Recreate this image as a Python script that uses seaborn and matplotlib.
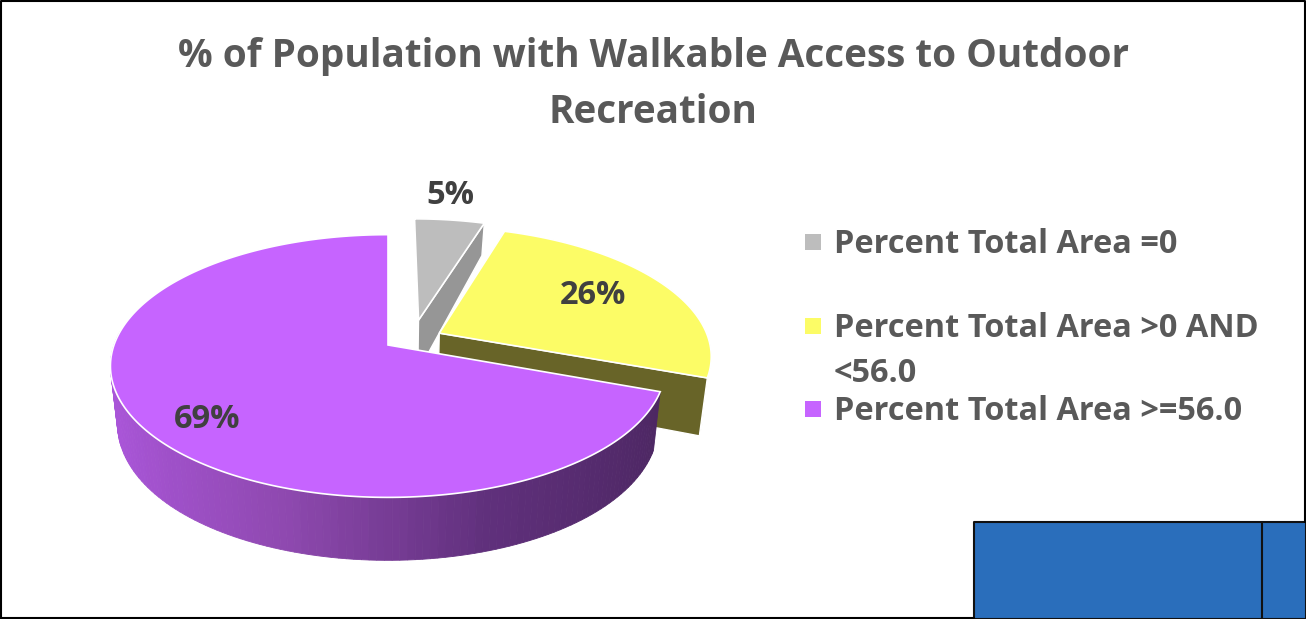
import numpy as np
import matplotlib
matplotlib.use('Agg')
import matplotlib.pyplot as plt
import seaborn as sns

sns.set_theme(style="white")
plt.rcParams['font.family'] = ['Open Sans', 'DejaVu Sans']

title = '% of Population with Walkable Access to Outdoor\nRecreation'
categories = ['Percent Total Area =0', 'Percent Total Area >0 AND\n<56.0', 'Percent Total Area >=56.0']
shares = [5.0, 25.6, 69.4]
top_colors = ['#BDBDBD', '#FCFC66', '#C664FF']
cut_colors = ['#969696', '#686428', '#4F2864']

# pie placement in figure pixels
CX, CY = 388, 345
RX, RY, PERSP = 274, 128, 0.16
# explode offset and radius for each slice, in pie units
explode = [(0.115, 0.20), (0.19, 0.094), (0.0, 0.0)]
radius = [0.97, 0.99, 1.0]
label_pos = [(450, 196), (593, 295), (207, 419)]
legend_y = [242, 326, 409]


def project(x, y, low=False):
    # perspective squash of the pie plane, low=True gives the bottom face
    d = 1 + PERSP * y
    sx = RX * x / d
    sy = -RY * y / d
    if low:
        sx = sx * 0.975
        sy = sy + 54.9 - 13.7 * y - 5.64 * y * y
    return CX + sx, CY + sy


def slice_xy(i, ang):
    ex, ey = explode[i]
    return ex + radius[i] * np.cos(ang), ey + radius[i] * np.sin(ang)


def poly(ax, pts, color, ec='none', lw=0, z=2):
    ax.fill([p[0] for p in pts], [p[1] for p in pts], facecolor=color, edgecolor=ec, linewidth=lw, zorder=z)


fig, ax = plt.subplots(figsize=(13.06, 6.19), dpi=100)
ax.set_position([0, 0, 1, 1])
ax.set_xlim(0, 1306)
ax.set_ylim(619, 0)
ax.axis('off')

ends = 90 - np.cumsum([0] + shares) * 3.6
rim_colors = sns.blend_palette(['#AB56DB', '#8F49B0', '#60307C', '#4D2763'], 100)

z = 2
for i in range(3):
    a0, a1 = np.radians(ends[i]), np.radians(ends[i + 1])
    ex, ey = explode[i]
    angs = np.linspace(a0, a1, 240)
    apex = (ex, ey)

    # outer rim, only the part that faces the viewer
    if i == 2:
        front = np.radians(np.linspace(-186, ends[2], 121))
        for k in range(120):
            b0, b1 = front[k], front[k + 1]
            # shade follows the horizontal position on the rim
            shade = (1 + np.cos(b0)) / (1 + np.cos(front[-1]))
            color = rim_colors[int(min(shade, 1) * 99)]
            pts = [project(*slice_xy(i, b0)), project(*slice_xy(i, b1)),
                   project(*slice_xy(i, b1), low=True), project(*slice_xy(i, b0), low=True)]
            poly(ax, pts, color, ec=color, lw=0.6, z=z)
    else:
        front = [a for a in angs if np.sin(a) <= 0.05]
        if len(front) > 1:
            pts = [project(*slice_xy(i, a)) for a in front] + [project(*slice_xy(i, a), low=True) for a in front[::-1]]
            poly(ax, pts, cut_colors[i], ec='white', lw=1, z=z)
    z += 1

    # visible cut face
    if i < 2:
        out = slice_xy(i, a1)
        pts = [project(*apex), project(*out), project(*out, low=True), project(*apex, low=True)]
        poly(ax, pts, cut_colors[i], ec='white', lw=1, z=z)
    z += 1

    # top face
    pts = [project(*apex)] + [project(*slice_xy(i, a)) for a in angs]
    poly(ax, pts, top_colors[i], ec='white', lw=1.2, z=z)
    z += 1

    ax.text(label_pos[i][0], label_pos[i][1], f'{shares[i]:.0f}%', color='#404040', fontsize=23.5,
            fontweight='bold', ha='center', va='center', zorder=20)

ax.text(653, 84.5, title, color='#595959', fontsize=27.8, fontweight='bold', ha='center', va='center',
        linespacing=1.54, zorder=20)

# legend, spacing in the original is uneven so it is laid out by hand
for i in range(3):
    ax.scatter([813], [legend_y[i]], marker='s', s=132, color=top_colors[i], linewidths=0, zorder=20)
    ax.text(834, legend_y[i] - 14, categories[i], color='#595959', fontsize=23.4, fontweight='bold',
            ha='left', va='top', linespacing=1.5, zorder=20)

# blue box in the corner and the image border
ax.fill_between([974, 1306], 522, 619, facecolor='#2A6EBB', edgecolor='#111111', linewidth=1.5, zorder=25)
ax.plot([1262, 1262], [522, 619], color='#111111', lw=1.5, zorder=26)
ax.plot([0.5, 0.5, 1305, 1305], [619, 0.5, 0.5, 522], color='black', lw=1.5, zorder=26)
ax.plot([0, 974], [618, 618], color='black', lw=1.5, zorder=26)

fig.savefig('out.png', dpi=100)
